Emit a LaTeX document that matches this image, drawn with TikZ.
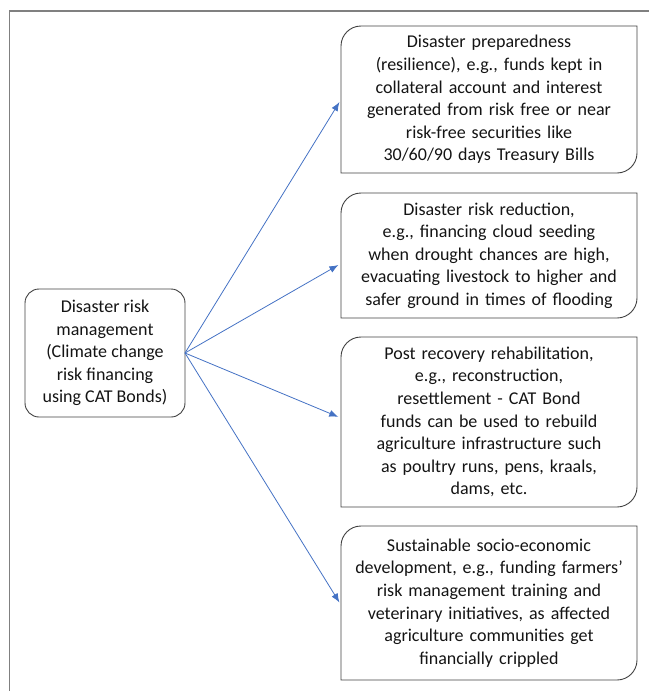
\documentclass[tikz,border=0pt]{standalone}
\usepackage{fontspec}
\setmainfont{Carlito}
\usetikzlibrary{arrows.meta,positioning}
\definecolor{linkblue}{HTML}{4472C4}
\definecolor{boxgray}{HTML}{404040}
\definecolor{framegray}{HTML}{808080}

\tikzset{
  txt/.style={font=\fontsize{18}{22.6}\selectfont, align=center, inner sep=0pt, outer sep=0pt, text=black!92},
  item/.style={txt, minimum width=296pt, text width=290pt},
  boxline/.style={draw=boxgray, line width=0.9pt},
  link/.style={draw=linkblue, line width=0.8pt, -{Latex[length=9pt,width=7pt]}, shorten >=3pt},
}

\begin{document}
\begin{tikzpicture}[x=1pt,y=1pt]
\useasboundingbox (0,0) rectangle (649,-691);

\def \rr {20pt} % corner radius of the item boxes

% outer frame, only top and left edge show
\draw[framegray, line width=1.3pt] (9.5,-691) |- (649,-11);

\node[txt, minimum width=160pt, minimum height=128pt, boxline, rounded corners=14pt] (drm) at (105,-353)
  {Disaster risk\\management\\(Climate change\\risk financing\\using CAT Bonds)};

\node[item, minimum height=147pt] (prep) at (489,-99.5)
  {Disaster preparedness\\(resilience), e.g., funds kept in\\collateral account and interest\\generated from risk free or near\\risk-free securities like\\30/60/90 days Treasury Bills};
\node[item, minimum height=125pt] (reduce) at (489,-255.5)
  {Disaster risk reduction,\\e.g., financing cloud seeding\\when drought chances are high,\\evacuating livestock to higher and\\safer ground in times of flooding};
\node[item, minimum height=170pt] (rehab) at (489,-422)
  {Post recovery rehabilitation,\\e.g., reconstruction,\\resettlement - CAT Bond\\funds can be used to rebuild\\agriculture infrastructure such\\as poultry runs, pens, kraals,\\dams, etc.};
\node[item, minimum height=154pt] (develop) at (489,-603)
  {Sustainable socio-economic\\development, e.g., funding farmers’\\risk management training and\\veterinary initiatives, as affected\\agriculture communities get\\financially crippled};

\foreach \b in {prep,reduce,rehab,develop}
  \draw[boxline] ([yshift=-\rr]\b.north west) arc[start angle=180, end angle=90, radius=\rr]
    -- (\b.north east) -- ([yshift=\rr]\b.south east) arc[start angle=0, end angle=-90, radius=\rr]
    -- (\b.south west) -- cycle;

\foreach \b/\dy in {prep/0, reduce/-8, rehab/4, develop/-2}
  \draw[link] (drm.east) -- ([yshift=\dy pt]\b.west);

\end{tikzpicture}
\end{document}
